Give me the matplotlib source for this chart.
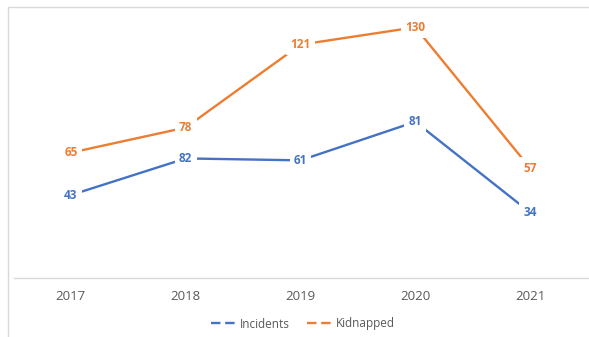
import matplotlib.pyplot as plt
from matplotlib.lines import Line2D
from matplotlib.patches import Rectangle

# data
years = ['2017', '2018', '2019', '2020', '2021']
incidents = [43, 62, 61, 81, 34]          # plotted heights
incident_labels = ['43', '82', '61', '81', '34']  # text shown on the chart
kidnapped = [65, 78, 121, 130, 57]
kidnapped_labels = ['65', '78', '121', '130', '57']

BLUE = '#4472C4'
ORANGE = '#ED7D31'

plt.rcParams['font.family'] = ['Open Sans', 'DejaVu Sans']

fig = plt.figure(figsize=(5.89, 3.37), dpi=100)
ax = fig.add_axes([13.5 / 589, 59 / 337, 574 / 589, 270 / 337])

x = list(range(len(years)))
for vals, labels, color in [(incidents, incident_labels, BLUE),
                            (kidnapped, kidnapped_labels, ORANGE)]:
    ax.plot(x, vals, color=color, linewidth=1.7, solid_capstyle='butt')
    for xi, v, t in zip(x, vals, labels):
        ax.text(xi, v, t, ha='center', va='center', color=color,
                fontsize=8.5, fontweight='bold',
                bbox=dict(facecolor='white', edgecolor='none', pad=3.0))

ax.set_xlim(-0.5, len(years) - 0.5)
ax.set_ylim(0, 140)
ax.set_xticks(x)
ax.set_xticklabels(years, color='#595959', fontsize=9.5)
ax.tick_params(axis='x', length=0, pad=9)
ax.set_yticks([])
for s in ['top', 'left', 'right']:
    ax.spines[s].set_visible(False)
ax.spines['bottom'].set_color('#D9D9D9')
ax.spines['bottom'].set_linewidth(1.0)

handles = [Line2D([], [], color=BLUE, linewidth=1.7, linestyle=(0, (4, 2))),
           Line2D([], [], color=ORANGE, linewidth=1.7, linestyle=(0, (4, 2)))]
fig.legend(handles, ['Incidents', 'Kidnapped'], loc='center',
           bbox_to_anchor=(303 / 589, 1 - 324 / 337), ncol=2, frameon=False,
           fontsize=8.5, labelcolor='#595959', handlelength=2.2,
           handletextpad=0.2, columnspacing=1.5)

# light chart border
fig.patches.append(Rectangle((8 / 589, -0.1), 1.2, 1 - 7 / 337 + 0.1,
                             transform=fig.transFigure, fill=False,
                             edgecolor='#D9D9D9', linewidth=1.0))

fig.savefig('out.png', dpi=100)
